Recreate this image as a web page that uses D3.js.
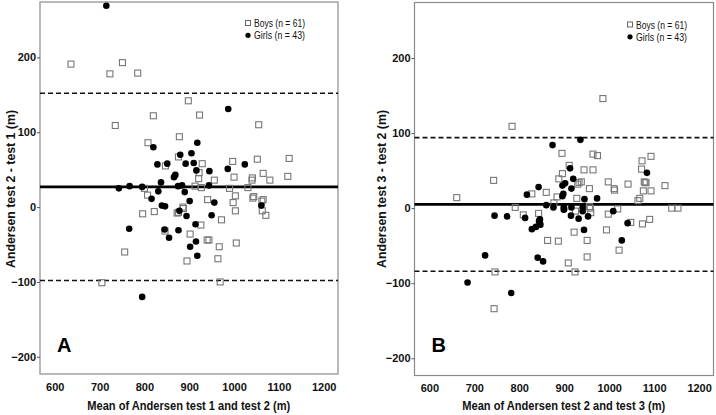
<!DOCTYPE html>
<html><head><meta charset="utf-8">
<script src="https://cdn.jsdelivr.net/npm/d3@7"></script>
<style>
body{margin:0;background:#fff;}
svg{display:block;}
text{font-family:"Liberation Sans",Arial,sans-serif;}
</style></head>
<body>
<svg id="chart" width="716" height="415"></svg>
<script>
// ---- data ----
const yTicks = [-200, -100, 0, 100, 200];
const xTicks = [600, 700, 800, 900, 1000, 1100, 1200];
const legendLabels = ["Boys (n = 61)", "Girls (n = 43)"];
const panelLetters = ["A", "B"];
const xTitles = ["Mean of Andersen test 1 and test 2 (m)", "Mean of Andersen test 2 and test 3 (m)"];
const yTitles = ["Andersen test 2 - test 1 (m)", "Andersen test 3 - test 2 (m)"];
const meanDiff = [27, 5];
const upperLoA = [152, 94];
const lowerLoA = [-98, -84];

const boysA = [[636,191],[723,178],[751,193],[785,179],[898,142],[735,109],[820,122],[923,123],[1055,110],
 [808,86],[878,94],[876,67],[929,58],[847,55],[997,61],[1052,64],[1123,65],[922,46],[1000,40],[1041,39],
 [1040,36],[1065,45],[1080,36],[1120,41],[956,36],[921,38],[913,28],[927,26],[990,25],[1031,26],[800,25],
 [807,16],[1003,15],[1044,14],[1065,10],[941,10],[998,6],[1063,-5],[1071,-11],[1003,-5],[886,0],[873,-8],
 [822,-6],[796,-9],[926,-24],[972,-17],[902,-36],[940,-44],[944,-44],[1005,-48],[967,-53],[964,-69],
 [895,-72],[756,-60],[705,-101],[969,-100],[1062,8],[1042,12],[846,-32],[887,-2],[876,-7]];
const girlsA = [[715,269],[987,131],[820,80],[918,86],[829,57],[851,58],[880,70],[905,72],[892,58],[910,59],
 [916,49],[945,48],[986,51],[1024,57],[869,43],[866,40],[837,33],[743,25],[767,28],[795,27],[875,28],[884,29],
 [944,29],[831,21],[890,20],[816,11],[901,8],[956,6],[839,2],[846,1],[878,-5],[894,-12],[950,-11],[1061,2],
 [766,-29],[845,-30],[876,-31],[914,-23],[855,-41],[915,-46],[902,-53],[918,-65],[795,-120]];
const boysB = [[986,146],[784,109],[743,37],[661,14],[895,73],[964,72],[974,70],[911,57],[896,46],[888,39],
 [944,51],[964,51],[933,34],[938,35],[998,35],[1011,26],[1012,24],[1042,32],[1073,63],[1093,69],[1072,52],
 [1080,34],[1082,34],[1124,30],[1076,23],[1093,23],[956,26],[930,32],[860,21],[828,19],[884,15],[928,13],
 [1064,10],[1068,13],[877,7],[791,1],[809,-9],[843,-7],[1139,0],[1153,0],[998,-8],[1019,-1],[959,-6],[956,2],
 [925,-4],[1048,-19],[1074,-21],[1090,-15],[994,-29],[922,-32],[863,-43],[887,-44],[951,-43],[1022,-56],
 [951,-65],[909,-73],[924,-85],[746,-85],[744,-134],[958,0],[1078,35]];
const girlsB = [[874,84],[936,91],[913,53],[1084,47],[920,39],[902,33],[896,30],[916,26],[843,28],[817,18],
 [898,19],[896,16],[945,12],[973,13],[860,4],[876,1],[899,-2],[899,1],[916,1],[941,1],[941,-4],[915,-10],
 [932,-14],[953,-11],[944,-29],[1009,-4],[1041,-20],[1028,-43],[745,-10],[773,-11],[813,-13],[828,-28],
 [837,-25],[844,-17],[846,-15],[847,-22],[724,-63],[841,-66],[853,-71],[685,-99],[782,-113],[845,-19],[900,-1]];

const boys = [boysA, boysB];
const girls = [girlsA, girlsB];

// ---- layout ----
const panels = [
  {left:40, right:338, top:2, bottom:374, yTitleX:10, legX:248, legY:23},
  {left:414.5, right:713.5, top:2.5, bottom:375.5, yTitleX:381, legX:630, legY:24.5}
];
const svg = d3.select("#chart");

panels.forEach((p, i) => {
  const x = d3.scaleLinear().domain([567, 1232]).range([p.left, p.right]);
  const y = d3.scaleLinear().domain([-223, 274]).range([p.bottom, p.top]);
  const g = svg.append("g");

  // frame
  g.append("rect").attr("x", p.left).attr("y", p.top)
   .attr("width", p.right - p.left).attr("height", p.bottom - p.top)
   .attr("fill", "none").attr("stroke", "#8a8a8a").attr("stroke-width", 1.2);

  // axes
  const ya = g.append("g").attr("transform", `translate(${p.left},0)`)
    .call(d3.axisLeft(y).tickValues(yTicks).tickFormat(d3.format("d")).tickSize(3).tickPadding(1));
  ya.select(".domain").remove();
  ya.selectAll("line").attr("stroke", "#555");
  ya.selectAll("text").attr("font-size", 11).attr("font-weight", "bold").attr("fill", "#111");

  const xa = g.append("g").attr("transform", `translate(0,${p.bottom})`)
    .call(d3.axisBottom(x).tickValues(xTicks).tickFormat(d3.format("d")).tickSize(0).tickPadding(9));
  xa.select(".domain").remove();
  xa.selectAll("text").attr("font-size", 11).attr("font-weight", "bold").attr("fill", "#111");

  // reference lines
  g.append("line").attr("x1", p.left).attr("x2", p.right)
   .attr("y1", y(meanDiff[i])).attr("y2", y(meanDiff[i]))
   .attr("stroke", "#000").attr("stroke-width", 2.6);
  [upperLoA[i], lowerLoA[i]].forEach(v => {
    g.append("line").attr("x1", p.left).attr("x2", p.right)
     .attr("y1", y(v)).attr("y2", y(v))
     .attr("stroke", "#111").attr("stroke-width", 1.6).attr("stroke-dasharray", "5,3");
  });

  // points
  const s = 6;
  g.selectAll("rect.boy").data(boys[i]).join("rect").attr("class", "boy")
   .attr("x", d => x(d[0]) - s/2).attr("y", d => y(d[1]) - s/2)
   .attr("width", s).attr("height", s)
   .attr("fill", "none").attr("stroke", "#777").attr("stroke-width", 1.1);
  g.selectAll("circle.girl").data(girls[i]).join("circle").attr("class", "girl")
   .attr("cx", d => x(d[0])).attr("cy", d => y(d[1])).attr("r", 3.3)
   .attr("fill", "#000");

  // legend
  g.append("rect").attr("x", p.legX - 2.5).attr("y", p.legY - 2.5).attr("width", 5).attr("height", 5)
   .attr("fill", "none").attr("stroke", "#666").attr("stroke-width", 1);
  g.append("circle").attr("cx", p.legX).attr("cy", p.legY + 12.3).attr("r", 2.6).attr("fill", "#000");
  legendLabels.forEach((t, k) => {
    g.append("text").attr("x", p.legX + 6).attr("y", p.legY + 4 + k * 12.3)
     .attr("font-size", 11).attr("fill", "#111")
     .attr("textLength", 51).attr("lengthAdjust", "spacingAndGlyphs").text(t);
  });

  // panel letter
  g.append("text").attr("x", p.left + 17).attr("y", 351.5)
   .attr("font-size", 20).attr("font-weight", "bold").attr("fill", "#000").text(panelLetters[i]);

  // axis titles
  g.append("text").attr("x", (x(600) + x(1200)) / 2 - 0.5).attr("y", 409.5)
   .attr("text-anchor", "middle").attr("font-size", 13).attr("font-weight", "bold").attr("fill", "#111")
   .attr("textLength", 203).attr("lengthAdjust", "spacingAndGlyphs").text(xTitles[i]);
  g.append("text").attr("transform", `translate(${p.yTitleX + 4.5},189) rotate(-90)`)
   .attr("text-anchor", "middle").attr("font-size", 13).attr("font-weight", "bold").attr("fill", "#111")
   .attr("textLength", 158).attr("lengthAdjust", "spacingAndGlyphs").text(yTitles[i]);
});
</script>
</body></html>
